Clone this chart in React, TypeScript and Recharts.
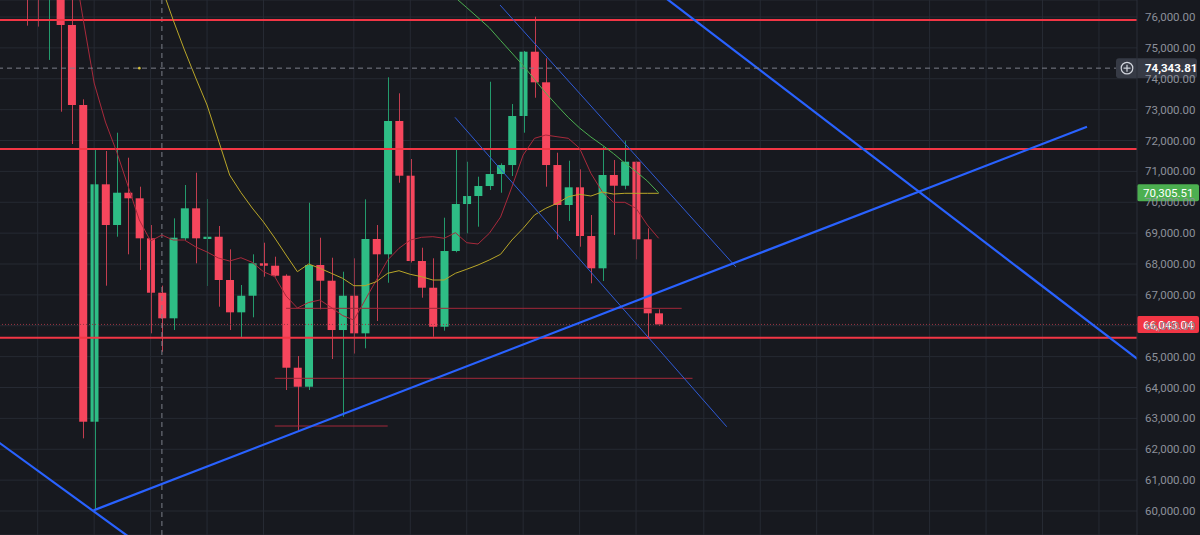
import React from 'react';
import {
	ComposedChart,
	Bar,
	Line,
	XAxis,
	YAxis,
	CartesianGrid,
	ReferenceLine,
	ReferenceDot,
} from 'recharts';

// candle index of the first bar (two bars hang above the visible range)
const FIRST_INDEX = -2;

const opens = [
	77600, 77300, 76700, 77100, 75741, 73150, 62892, 70581, 69263, 70309,
	70128, 68832, 67070, 66241, 68832, 69804, 68810, 68884, 67482, 66435,
	66973, 68023, 67945, 67621, 64641, 64026, 67968, 67459, 65862, 66973,
	65755, 68810, 68314, 72632, 70860, 68097, 67232, 65969, 68421, 69943,
	70202, 70526, 70915, 71206, 72794, 74876, 73885, 71206, 69911, 70484,
	68907, 67861, 70883, 70536, 71313, 68800, 66403,
];
const highs = [
	77900, 77500, 77500, 77300, 76800, 73334, 71692, 71660, 72253, 71443,
	70504, 69263, 67300, 69480, 70559, 70957, 70105, 69231, 68476, 67320,
	68314, 68690, 68237, 67667, 65020, 69985, 68852, 68204, 67751, 68185,
	70095, 69263, 74047, 73529, 71401, 68528, 68185, 69500, 71747, 71313,
	70828, 73904, 71261, 73182, 74900, 76010, 74662, 71605, 71346, 71067,
	69587, 71799, 71368, 71994, 71330, 69156, 66533,
];
const lows = [
	75720, 75690, 74610, 72933, 71887, 62354, 60032, 67297, 68884, 68314,
	67806, 65755, 65159, 65862, 68777, 68023, 67287, 66617, 65862, 65613,
	66274, 67589, 67589, 63919, 62568, 63919, 66533, 64923, 63054, 65100,
	65270, 66154, 67394, 70633, 68050, 66909, 65645, 65840, 68380, 68994,
	69208, 70397, 70309, 70850, 72253, 73386, 70504, 68800, 69393, 68560,
	67375, 67449, 68939, 70420, 68152, 65580, 66000,
];
const closes = [
	76900, 76800, 77200, 75741, 73150, 62892, 70581, 69263, 70309, 70128,
	68832, 67070, 66241, 68852, 69804, 68832, 68884, 67482, 66435, 66973,
	68023, 67945, 67621, 64641, 64026, 67968, 67459, 65862, 66973, 65755,
	68810, 68314, 72632, 70860, 68097, 67232, 65969, 68421, 69943, 70202,
	70526, 70915, 71206, 72794, 74876, 73885, 71206, 69911, 70484, 68907,
	67861, 70883, 70536, 71313, 68800, 66403, 66043.04,
];

// moving averages (null where not drawn)
const maRed = [
	null, null, null, null, 78170, 75985, 73862, 72599, 71628, 70526,
	69425, 68745, 68939, 68777, 68777, 68551, 68389, 68194, 68097, 68204,
	68055, 67750, 67589, 66964, 66575, 66753, 66834, 66591, 66332, 66186,
	66834, 67482, 68130, 68508, 68777, 68865, 68885, 68833, 69014, 68690,
	68648, 68994, 69522, 70494, 71530, 72071, 72178, 72123, 72071, 71747,
	70938, 70342, 69998, 69998, 69804, 69263, 68833,
];
const maYellow = [
	null, null, null, null, null, null, null, null, null, null,
	null, null, 76939, 75903, 74931, 74024, 73150, 72016, 70883, 70316,
	69814, 69360, 68842, 68291, 67751, 68000, 67861, 67700, 67538, 67297,
	67297, 67427, 67700, 67783, 67666, 67589, 67482, 67482, 67700, 67830,
	67968, 68130, 68315, 68777, 69156, 69587, 69804, 69966, 70180, 70258,
	70202, 70332, 70267, 70290, 70290, 70290, 70290,
];
const maGreen = [
	null, null, null, null, null, null, null, null, null, null,
	null, null, null, null, null, null, null, null, null, null,
	null, null, null, null, null, null, null, null, null, null,
	null, null, null, null, null, null, null, 76939, 76625, 76304,
	75981, 75653, 75239, 74834, 74426, 73982, 73538, 73134, 72745, 72405,
	72113, 71854, 71576, 71271, 70992, 70688, 70305.51,
];

const yTicks = [
	60000, 61000, 62000, 63000, 64000, 65000, 66000, 67000, 68000,
	69000, 70000, 71000, 72000, 73000, 74000, 75000, 76000,
];
const timeGrid = [-1, 4, 9, 14, 19, 27, 32, 37, 42, 47, 52, 58, 63, 68, 73, 78, 83, 88, 93];

const levels = [75903, 71725, 65613];
const crossPrice = 74343.81;
const maPrice = 70305.51;
const lastPrice = 66043.04;
const crossIndex = 10;

const thickTrends = [
	[[53.85, 76831], [97.5, 64622]],
	[[3.95, 60020], [91.94, 72447]],
	[[-5.6, 62530], [7.6, 59022]],
];
const thinTrends = [
	[[39.95, 76389], [60.85, 67903]],
	[[35.96, 72751], [60.03, 62730]],
];
const zones = [
	[[21, 66565], [56.04, 66565]],
	[[20, 64298], [57, 64298]],
	[[20, 62753], [30, 62753]],
];

const rows = opens.map((o, k) => ({
	i: FIRST_INDEX + k,
	o,
	h: highs[k],
	l: lows[k],
	c: closes[k],
	maRed: maRed[k],
	maYellow: maYellow[k],
	maGreen: maGreen[k],
}));

const UP = '#2ebd85';
const DOWN = '#f6465d';
const GRID = '#262a33';
const FONT = 'Roboto, "Open Sans", sans-serif';

const fmt = (v: number) =>
	v.toLocaleString('en-US', { minimumFractionDigits: 2, maximumFractionDigits: 2 });

function Candle(props: any) {
	let { x, y, width, height, payload } = props;
	if (height < 0) {
		y += height;
		height = -height;
	}
	const { o, h, l, c } = payload;
	const up = c >= o;
	const ppu = h > l ? height / (h - l) : 0;
	const top = y + (h - Math.max(o, c)) * ppu;
	const bot = y + (h - Math.min(o, c)) * ppu;
	const cx = Math.round(x + width / 2) + 0.5;
	return (
		<g>
			<line x1={cx} x2={cx} y1={y} y2={y + height} stroke={up ? '#239a6c' : '#c23d4f'} strokeWidth={1} />
			<rect x={x} y={top} width={width} height={Math.max(1.5, bot - top)} fill={up ? UP : DOWN} />
		</g>
	);
}

const priceTag = (value: number, bg: string) => (props: any) => {
	const vb = props.viewBox || {};
	const x0 = (vb.x || 0) + (vb.width || 0);
	const y = vb.y || 0;
	return (
		<g>
			<rect x={x0} y={y - 8.5} width={62} height={17} rx={2} fill={bg} />
			<text x={x0 + 6} y={y} dy="0.36em" fill="#ffffff" fontSize={11.5} fontFamily={FONT}>
				{fmt(value)}
			</text>
		</g>
	);
};

const crossTag = (props: any) => {
	const vb = props.viewBox || {};
	const x0 = (vb.x || 0) + (vb.width || 0);
	const y = vb.y || 0;
	return (
		<g>
			<rect x={x0 - 21} y={y - 10} width={81} height={20} rx={3} fill="#363a45" />
			<circle cx={x0 - 10} cy={y} r={5.8} fill="none" stroke="#d1d4dc" strokeWidth={1.2} />
			<line x1={x0 - 13.5} x2={x0 - 6.5} y1={y} y2={y} stroke="#d1d4dc" strokeWidth={1.2} />
			<line x1={x0 - 10} x2={x0 - 10} y1={y - 3.5} y2={y + 3.5} stroke="#d1d4dc" strokeWidth={1.2} />
			<text x={x0 + 8} y={y} dy="0.36em" fill="#ffffff" fontSize={11.5} fontWeight={700} fontFamily={FONT}>
				{fmt(crossPrice)}
			</text>
		</g>
	);
};

export default function App() {
	return (
		<div style={{ width: 1200, height: 535, background: '#17191f', position: 'relative' }}>
			<style>{'body{margin:0;background:#17191f}'}</style>
			<ComposedChart width={1200} height={535} data={rows} margin={{ top: 0, right: 0, bottom: 0, left: 0 }}>
				<CartesianGrid vertical={false} stroke={GRID} strokeWidth={1} />
				{timeGrid.map((t) => (
					<ReferenceLine key={`g${t}`} x={t} stroke={GRID} strokeWidth={1} ifOverflow="hidden" />
				))}
				<XAxis dataKey="i" type="number" domain={[-4.34, 96.37]} allowDataOverflow hide />
				<YAxis
					orientation="right"
					width={63}
					domain={[59223, 76551]}
					allowDataOverflow
					ticks={yTicks}
					tickFormatter={fmt}
					tickLine={false}
					axisLine={{ stroke: '#2a2e39' }}
					tick={{ fill: '#8c909a', fontSize: 11.5, fontFamily: FONT }}
				/>
				<ReferenceLine x={crossIndex} stroke="#7b7f89" strokeDasharray="5 4" ifOverflow="hidden" />
				<ReferenceLine
					y={lastPrice}
					stroke="#9a3542"
					strokeDasharray="1 2"
					ifOverflow="visible"
					label={priceTag(lastPrice, '#f23645')}
				/>
				{levels.map((v) => (
					<ReferenceLine key={`lv${v}`} y={v} stroke="#f23645" strokeWidth={2} ifOverflow="hidden" />
				))}
				{zones.map((s, k) => (
					<ReferenceLine
						key={`z${k}`}
						segment={s.map(([x, y]) => ({ x, y }))}
						stroke="#a3283a"
						strokeWidth={1}
						ifOverflow="hidden"
					/>
				))}
				<Line dataKey="maRed" type="linear" stroke="#a8293b" strokeWidth={1} dot={false} isAnimationActive={false} />
				<Line dataKey="maYellow" type="linear" stroke="#b9a628" strokeWidth={1} dot={false} isAnimationActive={false} />
				<Line dataKey="maGreen" type="linear" stroke="#4caf50" strokeWidth={1} dot={false} isAnimationActive={false} />
				<Bar dataKey={(d: any) => [d.l, d.h]} barSize={8} shape={Candle} isAnimationActive={false} />
				{thinTrends.map((s, k) => (
					<ReferenceLine
						key={`tt${k}`}
						segment={s.map(([x, y]) => ({ x, y }))}
						stroke="#2f5bd6"
						strokeWidth={1}
						ifOverflow="hidden"
					/>
				))}
				{thickTrends.map((s, k) => (
					<ReferenceLine
						key={`tk${k}`}
						segment={s.map(([x, y]) => ({ x, y }))}
						stroke="#2962ff"
						strokeWidth={2.2}
						ifOverflow="hidden"
					/>
				))}
				<ReferenceLine
					y={crossPrice}
					stroke="#7b7f89"
					strokeDasharray="5 4"
					ifOverflow="visible"
					label={crossTag}
				/>
				<ReferenceDot x={8} y={crossPrice} r={1.3} fill="#d6c13a" stroke="none" />
				<ReferenceLine y={maPrice} stroke="none" ifOverflow="visible" label={priceTag(maPrice, '#4caf50')} />
			</ComposedChart>
		</div>
	);
}
